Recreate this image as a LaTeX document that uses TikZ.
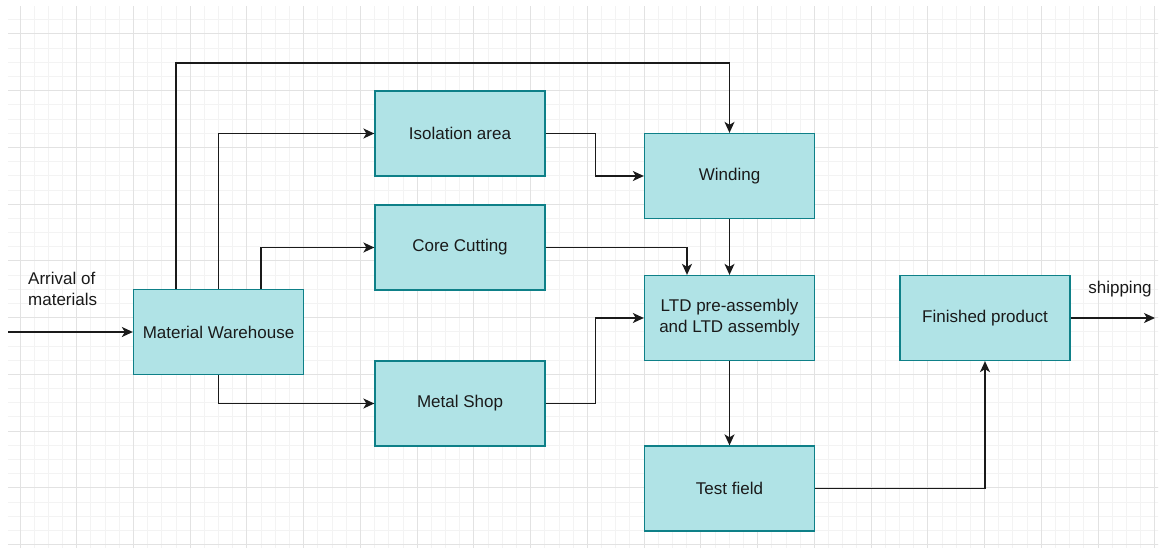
\documentclass[tikz,border=0pt]{standalone}
\usepackage{fontspec}
\setmainfont{Liberation Sans}
\usetikzlibrary{arrows.meta,positioning}
\definecolor{boxfill}{HTML}{B0E3E6}
\definecolor{boxline}{HTML}{0E8088}
\definecolor{ink}{HTML}{1A1A1A}
\definecolor{gridminor}{HTML}{F3F3F3}
\definecolor{gridmajor}{HTML}{E2E2E2}
\tikzset{
  box/.style={draw=boxline, fill=boxfill, line width=1.3pt, minimum width=170pt, minimum height=85pt, inner sep=0pt, text=ink, font=\fontsize{17}{21}\selectfont, align=center},
  conn/.style={draw=ink, line width=1.5pt, -{Stealth[length=11pt,width=10pt,inset=3pt]}},
  lbl/.style={text=ink, font=\fontsize{17}{21}\selectfont, inner sep=0pt},
  gminor/.style={draw=gridminor, line width=1pt},
  gmajor/.style={draw=gridmajor, line width=1pt}
}
\begin{document}
\begin{tikzpicture}[x=1pt,y=-1pt]
\useasboundingbox (0,0) rectangle (1161,548);
\fill[white] (0,0) rectangle (1161,548);
% grid
\begin{scope}
\clip (8,7) rectangle (1158,547);
\foreach \k in {-1,...,82} { \draw[gminor] ({20+14.185*\k},0) -- ++(0,560); }
\foreach \k in {-2,...,38} { \draw[gminor] (0,{34+14.185*\k}) -- ++(1170,0); }
\foreach \k in {0,...,20} { \draw[gmajor] ({20+56.74*\k},0) -- ++(0,560); }
\foreach \k in {-1,...,9} { \draw[gmajor] (0,{34+56.74*\k}) -- ++(1170,0); }
\end{scope}
% nodes
\node[box] (mw) at (218.5,332) {Material Warehouse};
\node[box] (iso) at (460,133.5) {Isolation area};
\node[box] (core) at (460,247.5) {Core Cutting};
\node[box] (metal) at (460,403.5) {Metal Shop};
\node[box] (wind) at (729.5,176) {Winding};
\node[box] (ltd) at (729.5,318) {LTD pre-assembly\\and LTD assembly};
\node[box] (test) at (729.5,488.5) {Test field};
\node[box] (fin) at (985,318) {Finished product};
\node[lbl, align=left, anchor=west] (arrlbl) at (28,289) {Arrival of\\materials};
\node[lbl] (shiplbl) at (1120,289) {shipping};
\coordinate (src) at (8,332);
\coordinate (ship) at (1155,318);
% connectors
\draw[conn] (src) -- (mw.west);
\draw[conn] ([xshift=-42.5pt]mw.north) |- ([yshift=70pt]wind.north) -- (wind.north);
\draw[conn] (mw.north) |- (iso.west);
\draw[conn] ([xshift=42.5pt]mw.north) |- (core.west);
\draw[conn] (mw.south) |- (metal.west);
\draw[conn] (iso.east) -- ++(49.7,0) |- (wind.west);
\draw[conn] (core.east) -| ([xshift=-42.5pt]ltd.north);
\draw[conn] (wind.south) -- (ltd.north);
\draw[conn] (metal.east) -- ++(49.7,0) |- (ltd.west);
\draw[conn] (ltd.south) -- (test.north);
\draw[conn] (test.east) -| (fin.south);
\draw[conn] (fin.east) -- (ship);
\end{tikzpicture}
\end{document}
